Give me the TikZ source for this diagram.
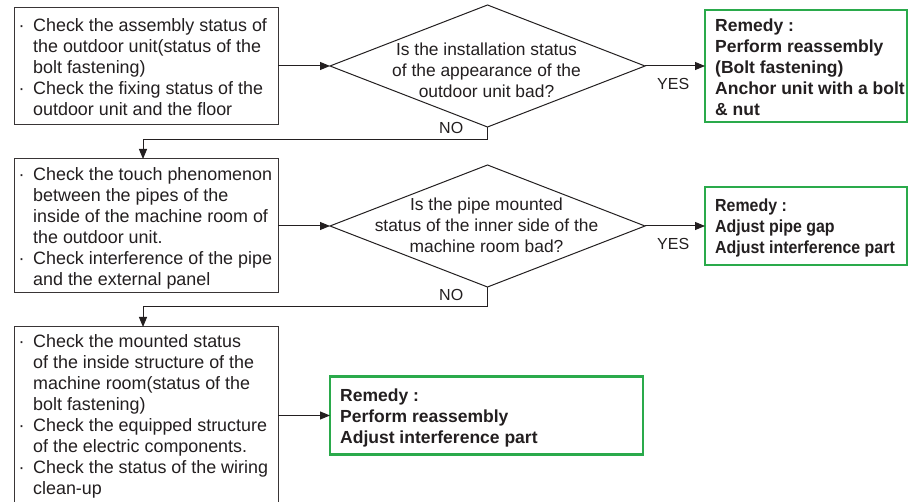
\documentclass[tikz,border=0pt]{standalone}
\usepackage{fontspec}
\usepackage{graphicx}
\setmainfont{Liberation Sans}
\usetikzlibrary{arrows.meta,shapes.geometric,calc}
\definecolor{ink}{HTML}{231F20}
\definecolor{remgreen}{HTML}{2AAA4B}
\begin{document}
\begin{tikzpicture}[x=1pt,y=1pt,
  checkbox/.style={draw=ink!90, line width=1pt, inner sep=0pt, outer sep=0pt},
  remedybox/.style={draw=remgreen, line width=2.6pt, inner sep=0pt, outer sep=0pt},
  decision/.style={diamond, draw=ink, line width=1pt, inner sep=0pt, outer sep=0pt,
    minimum width=315pt, minimum height=122pt},
  boxtext/.style={inner sep=0pt, align=left, text=ink,
    font=\fontsize{17.9pt}{21pt}\selectfont},
  qtext/.style={inner sep=0pt, align=center, text=ink,
    font=\fontsize{17.4pt}{21pt}\selectfont},
  remtext/.style={inner sep=0pt, align=left, text=ink,
    font=\fontsize{17.5pt}{21pt}\selectfont\bfseries},
  answer/.style={inner sep=0pt, text=ink, font=\fontsize{16pt}{19pt}\selectfont},
  arr/.style={draw=ink, line width=1pt, -{Triangle[length=10pt,width=8pt]}}
]
\useasboundingbox (0,0) rectangle (924,-502);
\fill[white] (0,0) rectangle (924,-502);

\newcommand{\bul}{\llap{·\hspace{8.5pt}}}

% Row 1
\node[checkbox, anchor=north west, minimum width=264pt, minimum height=117pt] (b1) at (14,-7.5) {};
\node[boxtext, anchor=north west] (t1) at (33,-18.7) {\bul Check the assembly status of\\
the outdoor unit(status of the\\
bolt fastening)\\
\bul Check the fixing status of the\\
outdoor unit and the floor};
\node[decision] (d1) at (487.5,-66) {};
\node[qtext, anchor=north] (q1) at (486.5,-42.3) {Is the installation status\\ of the appearance of the\\ outdoor unit bad?};
\node[remedybox, anchor=north west, minimum width=202pt, minimum height=112pt] (g1) at (705,-10) {};
\node[remtext, anchor=north west] (r1) at (715,-18.4) {Remedy :\\ Perform reassembly\\ (Bolt fastening)\\ Anchor unit with a bolt\\ \& nut};
\node[answer, anchor=base west] (y1) at (657,-90) {YES};
\node[answer, anchor=base west] (n1) at (439,-133.3) {NO};

% Row 2
\node[checkbox, anchor=north west, minimum width=264pt, minimum height=134pt] (b2) at (14,-159) {};
\node[boxtext, anchor=north west] (t2) at (33,-167.7) {\bul Check the touch phenomenon\\
between the pipes of the\\
inside of the machine room of\\
the outdoor unit.\\
\bul Check interference of the pipe\\
and the external panel};
\node[decision] (d2) at (487.5,-226) {};
\node[qtext, anchor=north] (q2) at (486.5,-198) {Is the pipe mounted\\ status of the inner side of the\\ machine room bad?};
\node[remedybox, anchor=north west, minimum width=202pt, minimum height=78pt] (g2) at (705,-187) {};
\node[remtext, anchor=north west] (r2) at (715,-197) {\scalebox{0.91}[1]{\begin{tabular}{@{}l@{}}Remedy :\\ Adjust pipe gap\\ Adjust interference part\end{tabular}}};
\node[answer, anchor=base west] (y2) at (657,-250) {YES};
\node[answer, anchor=base west] (n2) at (439,-300.3) {NO};

% Row 3
\node[checkbox, anchor=north west, minimum width=264pt, minimum height=177pt] (b3) at (14,-327) {};
\node[boxtext, anchor=north west] (t3) at (33,-334.7) {\bul Check the mounted status\\
of the inside structure of the\\
machine room(status of the\\
bolt fastening)\\
\bul Check the equipped structure\\
of the electric components.\\
\bul Check the status of the wiring\\
clean-up};
\node[remedybox, anchor=north west, minimum width=313pt, minimum height=78pt] (g3) at (330,-376.5) {};
\node[remtext, anchor=north west] (r3) at (340,-388.3) {Remedy :\\ Perform reassembly\\ Adjust interference part};

% Connectors
\draw[arr] (b1.east) -- (d1.west);
\draw[arr] (d1.east) -- (g1.west);
\draw[arr] (d1.south) -- ++(0,-12.3) -| ($(b2.north west)+(129,0)$);
\draw[arr] (b2.east) -- (d2.west);
\draw[arr] (d2.south) -- ++(0,-19.7) -| ($(b3.north west)+(129,0)$);
\draw[arr] (d2.east) -- (g2.west);
\draw[arr] (b3.east) -- (b3.east -| g3.west);
\end{tikzpicture}
\end{document}
